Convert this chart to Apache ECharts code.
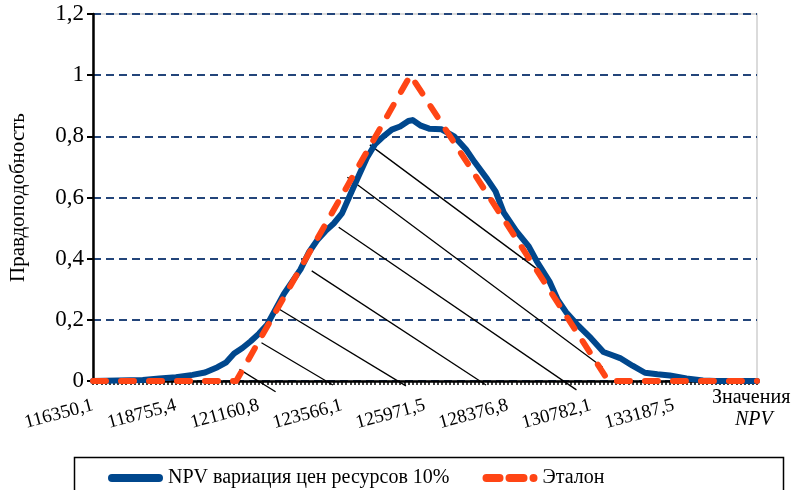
<!DOCTYPE html>
<html><head><meta charset="utf-8">
<script src="https://cdn.jsdelivr.net/npm/echarts@6/dist/echarts.min.js"></script>
<style>html,body{margin:0;padding:0;background:#fff}#c{width:799px;height:490px}</style>
</head><body><div id="c"></div>
<script>
// X tick labels (every 20 steps of the NPV grid, 0..160)
var xTickLabels = ['116350,1','118755,4','121160,8','123566,1','125971,5','128376,8','130782,1','133187,5',''];
var yTickLabels = ['0','0,2','0,4','0,6','0,8','1','1,2'];

// Series "NPV вариация цен ресурсов 10%" : step index / likelihood
var blueX = [0,12,16,20,24,27,30,32,34,36,38,40,42,44,46,48,50,52,54,56,58,60,62,64,66,68,70,72,74,76,77,79,81,84,87,90,92,95,97,99,102,105,107,110,112,114,117,120,123,125,127,130,133,136,139,143,147,150,160];
var blueY = [0,0.003,0.008,0.012,0.02,0.028,0.045,0.06,0.09,0.108,0.13,0.155,0.185,0.235,0.285,0.325,0.365,0.42,0.46,0.49,0.515,0.548,0.61,0.67,0.73,0.775,0.80,0.822,0.832,0.85,0.853,0.835,0.825,0.823,0.80,0.755,0.715,0.66,0.62,0.55,0.49,0.44,0.39,0.325,0.265,0.225,0.18,0.14,0.095,0.085,0.075,0.05,0.027,0.022,0.018,0.008,0.002,0,0];

// Series "Эталон"
var etalonX = [0,34.5,76.5,124.2,160];
var etalonY = [0,0,1,0,0];

// Hatching segments (data coordinates)
var hatchX1 = [35.3,40.6,44.6,52.7,59.2,61.3,66.7];
var hatchY1 = [0.038,0.125,0.237,0.36,0.503,0.666,0.772];
var hatchX2 = [44.0,57.8,75.4,94.7,116.5,122.8,108.9];
var hatchY2 = [-0.035,-0.013,-0.016,-0.013,-0.029,0.045,0.347];

var seriesNames = ['NPV вариация цен ресурсов 10%','Эталон'];

function pairs(xs, ys){ return xs.map(function(x,i){ return [x, ys[i]]; }); }

function draw(){
  var F = 'Liberation Serif';
  var hatchSeries = hatchX1.map(function(x,i){
    return {type:'line',silent:true,clip:false,symbol:'none',z:2,
      data:[[x,hatchY1[i]],[hatchX2[i],hatchY2[i]]],
      lineStyle:{color:'#000',width:1.3,type:'solid'}};
  });
  var dashIcon = 'path://M4,0H17A4,4 0 0 1 17,8H4A4,4 0 0 1 4,0Z M27,0H41A4,4 0 0 1 41,8H27A4,4 0 0 1 27,0Z M51,0A4,4 0 0 1 51,8A4,4 0 0 1 51,0Z';
  var solidIcon = 'path://M4,0H51A4,4 0 0 1 51,8H4A4,4 0 0 1 4,0Z';
  var chart = echarts.init(document.getElementById('c'));
  chart.setOption({
    animation:false,
    backgroundColor:'#fff',
    textStyle:{fontFamily:F},
    grid:{left:85,right:42,top:14,bottom:109,show:true,borderColor:'#d0d0d0',borderWidth:1.5,backgroundColor:'transparent'},
    xAxis:{
      type:'value',min:0,max:160,interval:20,
      axisLine:{show:true,onZero:false,lineStyle:{color:'#000',width:2.5}},
      axisTick:{show:true,length:4,lineStyle:{color:'#000',width:1.5}},
      minorTick:{show:true,splitNumber:20,length:4,lineStyle:{color:'#000',width:1.5}},
      splitLine:{show:false},
      axisLabel:{rotate:15,margin:24,fontSize:19,color:'#000',fontFamily:F,
        formatter:function(v){ return xTickLabels[Math.round(v/20)]; }}
    },
    yAxis:{
      type:'value',min:0,max:1.2,interval:0.2,
      name:'Правдоподобность',nameLocation:'middle',nameGap:64,
      nameTextStyle:{fontSize:21,color:'#000',fontFamily:F},
      axisLine:{show:true,lineStyle:{color:'#000',width:2.5}},
      axisTick:{show:true,length:6,lineStyle:{color:'#000',width:2}},
      splitLine:{show:true,lineStyle:{color:'#23457a',width:2,type:[8,5]}},
      axisLabel:{fontSize:23,color:'#000',margin:9,fontFamily:F,
        formatter:function(v){ return yTickLabels[Math.round(v/0.2)]; }}
    },
    legend:{
      left:103,top:463,itemGap:33,itemWidth:55,itemHeight:8,
      textStyle:{fontSize:20,color:'#000',fontFamily:F},
      data:[{name:seriesNames[0],icon:solidIcon},{name:seriesNames[1],icon:dashIcon}]
    },
    graphic:[
      {type:'rect',left:72,top:455,shape:{width:709,height:45},style:{fill:'none',stroke:'#000',lineWidth:1.5}},
      {type:'text',left:712,top:388,style:{text:'Значения',fontSize:20,fontFamily:F,fill:'#000'}},
      {type:'text',left:735,top:410,style:{text:'NPV',fontSize:20,fontStyle:'italic',fontFamily:F,fill:'#000'}}
    ],
    series:[
      {name:seriesNames[0],type:'line',data:pairs(blueX,blueY),symbol:'none',clip:false,z:3,
       lineStyle:{color:'#00478d',width:6,cap:'round',join:'round'},itemStyle:{color:'#00478d'}},
      {name:seriesNames[1],type:'line',data:pairs(etalonX,etalonY),symbol:'none',clip:false,z:4,
       lineStyle:{color:'#ff4515',width:6,type:[13,15],cap:'round',join:'round'},itemStyle:{color:'#ff4515'}}
    ].concat(hatchSeries)
  });
}
if (document.fonts && document.fonts.load) {
  Promise.all([
    document.fonts.load('20px "Liberation Serif"'),
    document.fonts.load('italic 20px "Liberation Serif"')
  ]).then(draw, draw);
} else { draw(); }
</script></body></html>
